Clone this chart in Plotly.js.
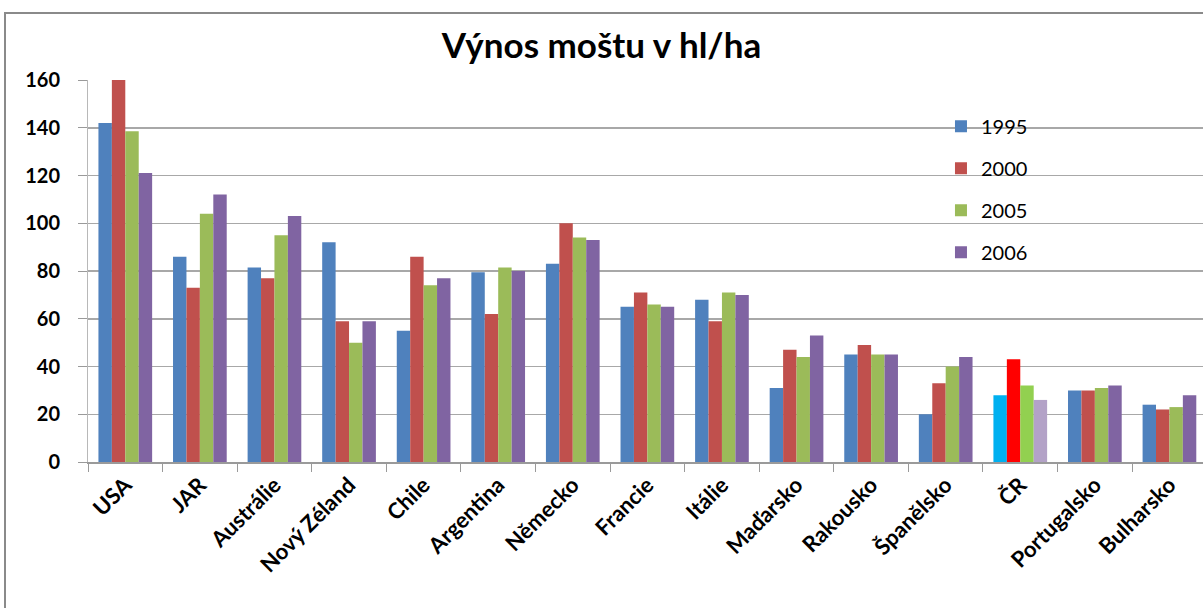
<!DOCTYPE html>
<html>
<head>
<meta charset="utf-8">
<script src="https://cdn.plot.ly/plotly-3.0.1.min.js"></script>
<style>
html,body{margin:0;padding:0;background:#fff;}
#wrap{position:relative;width:1203px;height:608px;}
#chart{position:absolute;left:0;top:0;width:1203px;height:608px;}
#frame{position:absolute;left:4px;top:12px;width:1210px;height:610px;border-left:2px solid #8a8a8a;border-top:2px solid #8a8a8a;pointer-events:none;}
</style>
</head>
<body>
<div id="wrap"><div id="chart"></div><div id="frame"></div></div>
<script>
const categories = ["USA","JAR","Austrálie","Nový Zéland","Chile","Argentina","Německo","Francie","Itálie","Maďarsko","Rakousko","Španělsko","ČR","Portugalsko","Bulharsko"];
const seriesNames = ["1995","2000","2005","2006"];
const v1995 = [142,86,81.5,92,55,79.5,83,65,68,31,45,20,28,30,24];
const v2000 = [160,73,77,59,86,62,100,71,59,47,49,33,43,30,22];
const v2005 = [138.5,104,95,50,74,81.5,94,66,71,44,45,40,32,31,23];
const v2006 = [121,112,103,59,77,80,93,65,70,53,45,44,26,32,28];
const baseColors = ["#4F81BD","#C0504D","#9BBB59","#8064A2"];
const highlightCategory = "ČR";
const highlightColors = ["#00B0F0","#FF0000","#92D050","#B3A2C7"];

const allValues = [v1995, v2000, v2005, v2006];
const traces = allValues.map((vals, i) => ({
  type: "bar",
  name: seriesNames[i],
  x: categories,
  y: vals,
  legendgroup: "g" + i,
  marker: {
    color: categories.map(c => c === highlightCategory ? highlightColors[i] : baseColors[i]),
    line: {width: 0}
  },
  hoverinfo: "x+y+name"
}));

const layout = {
  width: 1203, height: 608,
  margin: {l: 88, r: 0, t: 80, b: 146},
  paper_bgcolor: "rgba(0,0,0,0)",
  plot_bgcolor: "#fff",
  barmode: "group",
  bargap: 0.28,
  bargroupgap: 0,
  title: {
    text: "<b>Výnos moštu v hl/ha</b>",
    font: {family: "Lato, 'Open Sans', sans-serif", size: 35, color: "#000"},
    x: 0.5, xanchor: "center", y: 0.925, yanchor: "middle"
  },
  xaxis: {
    type: "category",
    range: [-0.5, 14.45],
    tickangle: -45,
    tickson: "boundaries",
    ticks: "outside", ticklen: 8, tickcolor: "#9a9a9a", tickwidth: 1,
    showgrid: false,
    showline: true, linecolor: "#9a9a9a", linewidth: 1.5,
    tickfont: {family: "Lato, sans-serif", size: 22, color: "#000", weight: "bold"},
    fixedrange: true
  },
  yaxis: {
    range: [0, 160],
    tickvals: [0,20,40,60,80,100,120,140,160],
    ticks: "outside", ticklen: 9, tickcolor: "#9a9a9a", tickwidth: 1,
    ticklabelstandoff: 14,
    showgrid: true, gridcolor: "#a8a8a8", gridwidth: 1.5,
    zeroline: false,
    showline: true, linecolor: "#b8b8b8", linewidth: 1,
    tickfont: {family: "Lato, sans-serif", size: 20, color: "#000", weight: "bold"},
    fixedrange: true
  },
  legend: {
    x: 0.765, y: 0.93, xanchor: "left", yanchor: "top",
    bgcolor: "rgba(0,0,0,0)",
    font: {family: "Lato, sans-serif", size: 20, color: "#000"},
    tracegroupgap: 13,
    itemwidth: 30
  },
  showlegend: true
};

Plotly.newPlot("chart", traces, layout, {displayModeBar: false, staticPlot: true});
</script>
</body>
</html>
